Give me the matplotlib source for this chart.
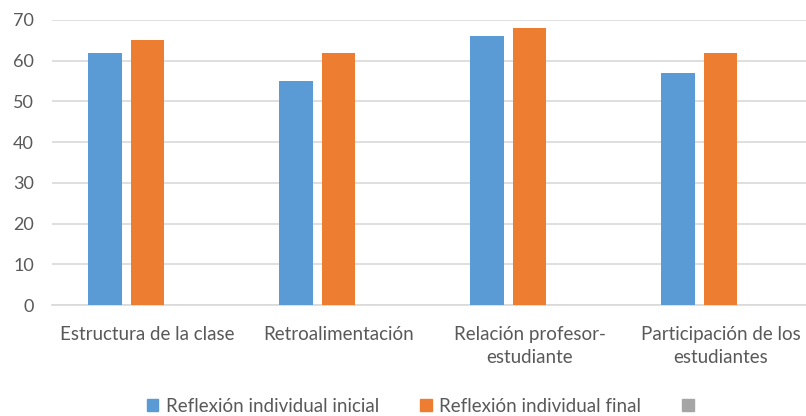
import numpy as np
import matplotlib.pyplot as plt

categories = [
    "Estructura de la clase",
    "Retroalimentación",
    "Relación profesor-\nestudiante",
    "Participación de los\nestudiantes",
]
inicial = [62, 55, 66, 57]
final = [65, 62, 68, 62]
series_names = ["Reflexión individual inicial", "Reflexión individual final", ""]
colors = ["#5B9BD5", "#ED7D31", "#A5A5A5"]
yticks = [0, 10, 20, 30, 40, 50, 60, 70]

plt.rcParams["font.family"] = ["Lato", "DejaVu Sans"]
text_color = "#595959"
grid_color = "#D9D9D9"

fig = plt.figure(figsize=(8.06, 4.16), dpi=100)
ax = fig.add_axes([52 / 806, 1 - 305 / 416, 764 / 806, 285 / 416])

x = np.arange(len(categories))
step = 0.222
width = 0.176
ax.bar(x - step, inicial, width, color=colors[0], zorder=3)
ax.bar(x, final, width, color=colors[1], zorder=3)

ax.set_xlim(-0.5, len(categories) - 0.5)
ax.set_ylim(0, 70)
ax.set_yticks(yticks)
ax.set_xticks(x)
ax.set_xticklabels(categories, fontsize=13.5, color=text_color, linespacing=1.45)
ax.tick_params(axis="y", labelsize=13, labelcolor=text_color, length=0, pad=13)
ax.tick_params(axis="x", length=0, pad=15)
ax.grid(axis="y", color=grid_color, linewidth=1.2, zorder=0)

for side in ["top", "right", "left"]:
    ax.spines[side].set_visible(False)
ax.spines["bottom"].set_color(grid_color)
ax.spines["bottom"].set_linewidth(1.2)

handles = [plt.Rectangle((0, 0), 1, 1, color=c) for c in colors]
fig.legend(
    handles,
    series_names,
    loc="center",
    bbox_to_anchor=(424 / 806, 1 - 406 / 416),
    ncol=3,
    frameon=False,
    fontsize=13.5,
    labelcolor=text_color,
    handlelength=0.6,
    handleheight=0.6,
    handletextpad=0.4,
    columnspacing=2.2,
)

fig.savefig("out.png", dpi=100)
